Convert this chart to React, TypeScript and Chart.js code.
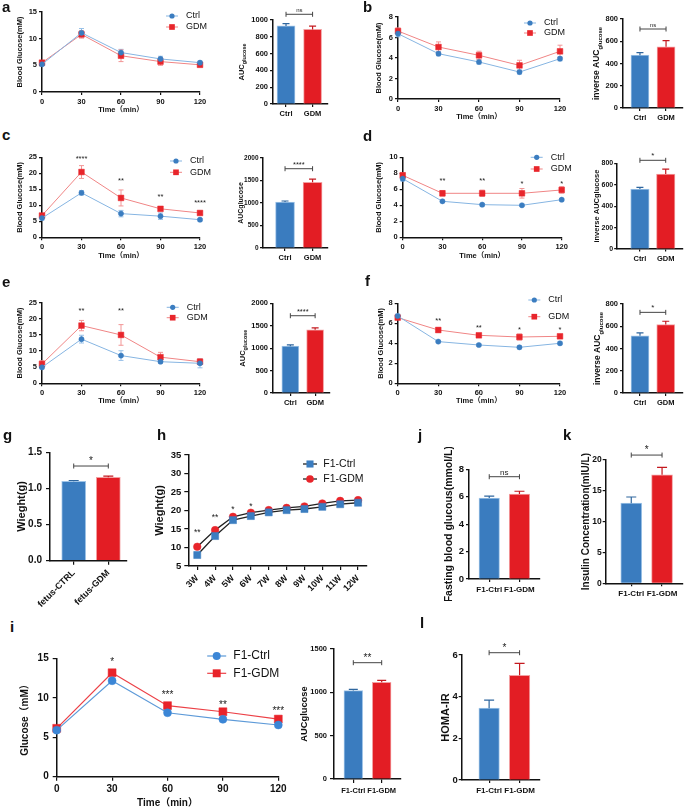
import React, { useEffect, useRef } from 'react';
import { Chart, registerables } from 'chart.js';

Chart.register(...registerables);

const FONT = "'Liberation Sans', Arial, 'Noto Sans CJK SC', sans-serif";
Chart.defaults.font.family = FONT;
Chart.defaults.color = '#111';

// ---------------- data ----------------
const TIMES = [0, 30, 60, 90, 120];
const GROUPS = ['Ctrl', 'GDM'];
const F1_GROUPS = ['F1-Ctrl', 'F1-GDM'];
const FETUS_GROUPS = ['fetus-CTRL', 'fetus-GDM'];
const WEEKS = ['3W', '4W', '5W', '6W', '7W', '8W', '9W', '10W', '11W', '12W'];

const A_CTRL = [5.2, 11.1, 7.4, 6.2, 5.5];
const A_CTRL_SD = [0.3, 0.8, 0.6, 0.5, 0.3];
const A_GDM = [5.5, 10.8, 6.8, 5.7, 5.1];
const A_GDM_SD = [0.4, 0.7, 1.1, 0.7, 0.4];
const A_AUC = [930, 888];
const A_AUC_SD = [28, 40];

const B_CTRL = [6.37, 4.42, 3.61, 2.63, 3.93];
const B_CTRL_SD = [0.3, 0.2, 0.2, 0.2, 0.2];
const B_GDM = [6.63, 5.07, 4.26, 3.28, 4.65];
const B_GDM_SD = [0.3, 0.5, 0.4, 0.5, 0.6];
const B_AUC = [475, 550];
const B_AUC_SD = [22, 55];

const C_CTRL = [6.0, 13.9, 7.4, 6.6, 5.5];
const C_CTRL_SD = [0.6, 0.7, 1.0, 1.0, 0.4];
const C_GDM = [6.8, 20.4, 12.3, 8.9, 7.6];
const C_GDM_SD = [0.6, 2.0, 2.5, 0.5, 0.5];
const C_AUC = [1020, 1460];
const C_AUC_SD = [25, 70];
const C_STARS = ['****', '**', '**', '****'];

const D_CTRL = [7.33, 4.5, 4.08, 4.0, 4.7];
const D_CTRL_SD = [0.3, 0.15, 0.15, 0.15, 0.15];
const D_GDM = [7.75, 5.5, 5.5, 5.5, 5.92];
const D_GDM_SD = [0.3, 0.35, 0.4, 0.6, 0.4];
const D_AUC = [560, 700];
const D_AUC_SD = [15, 45];
const D_STARS = ['**', '**', '*', '*'];

const E_CTRL = [4.96, 13.7, 8.6, 6.7, 6.2];
const E_CTRL_SD = [0.5, 1.2, 1.5, 0.4, 1.4];
const E_GDM = [6.0, 17.9, 15.0, 8.1, 6.7];
const E_GDM_SD = [1.0, 1.6, 3.2, 1.5, 0.9];
const E_AUC = [1045, 1410];
const E_AUC_SD = [30, 40];
const E_STARS = ['**', '**'];

const F_CTRL = [6.73, 4.17, 3.83, 3.6, 4.0];
const F_CTRL_SD = [0.2, 0.1, 0.1, 0.15, 0.15];
const F_GDM = [6.57, 5.33, 4.8, 4.63, 4.7];
const F_GDM_SD = [0.2, 0.25, 0.15, 0.3, 0.15];
const F_AUC = [515, 615];
const F_AUC_SD = [25, 30];
const F_STARS = ['**', '**', '*', '*'];

const G_WEIGHT = [1.1, 1.155];
const G_WEIGHT_SD = [0.01, 0.015];

const H_CTRL = [7.97, 13.1, 17.4, 18.5, 19.5, 20.1, 20.4, 21.0, 21.7, 22.1];
const H_GDM = [10.2, 14.7, 18.3, 19.4, 20.1, 20.7, 21.1, 21.9, 22.6, 22.8];
const H_STARS = ['**', '**', '*', '*'];

const I_CTRL = [5.9, 12.15, 8.1, 7.27, 6.55];
const I_GDM = [6.13, 13.17, 9.0, 8.23, 7.3];
const I_STARS = ['*', '***', '**', '***'];
const I_AUC = [1020, 1116];
const I_AUC_SD = [15, 23];

const J_FBG = [5.9, 6.2];
const J_FBG_SD = [0.15, 0.2];
const K_INS = [13.0, 17.6];
const K_INS_SD = [1.0, 1.2];
const L_HOMA = [3.45, 5.03];
const L_HOMA_SD = [0.38, 0.57];

// ---------------- styles ----------------
const BAR_BLUE = '#3a7cbf';
const BAR_RED = '#e31d24';
const BAR_BORDERS = ['#9fc4e7', '#f3a0a2'];
const BAR_ERR = ['#2f669e', '#c4191f'];

type Part = { t: string; s: number; sub?: boolean };
type Series = {
  label: string; values: number[]; errors?: number[];
  color: string; line: string; err: string; shape: string; r: number; lw: number;
};
type Bars = { values: number[]; errors: number[]; w: number; cap: number };
type Cfg = {
  id: string;
  kind: 'line' | 'bar' | 'cat';
  plot: number[]; m: number[];
  yMin: number; yMax: number; yStep: number; yDec?: number;
  tf: number; xf?: number; tl: number; yPad: number; xPad: number;
  xs?: number[]; cats?: string[]; xr?: number[]; rot?: number;
  series?: Series[]; bars?: Bars; cap?: number;
  yTitle: Part[]; yOff: number;
  xTitle?: { t: string; s: number; dy: number };
  legend?: { x: number; y: number; dy: number; len: number; off: number; s: number };
  stars?: { x: number; y: number; t: string }[]; starS?: number;
  bracket?: { y: number; t: string; s: number };
};

const topCtrl = (label: string, values: number[], errors: number[]): Series => ({
  label, values, errors, color: '#3b7dc0', line: '#86b5e2', err: '#97c0e8', shape: 'circle', r: 2.6, lw: 1,
});
const topGdm = (label: string, values: number[], errors: number[]): Series => ({
  label, values, errors, color: '#e8252b', line: '#f08585', err: '#f29696', shape: 'rect', r: 4, lw: 1,
});
const bars = (values: number[], errors: number[], w: number, cap: number): Bars => ({ values, errors, w, cap });

const starList = (xs: number[], ys: number[], texts: string[]) => texts.map((t, i) => ({ x: xs[i], y: ys[i], t }));

const TOP = { tf: 7.5, tl: 3, yPad: 2, xPad: 2 };
const TIME_T = 'Time（min）';

const PANELS: Cfg[] = [
  {
    id: 'a1', kind: 'line', plot: [42, 12, 200, 92], m: [42, 12, 16, 30], yMin: 0, yMax: 15, yStep: 5, ...TOP,
    xs: TIMES, series: [topCtrl('Ctrl', A_CTRL, A_CTRL_SD), topGdm('GDM', A_GDM, A_GDM_SD)], cap: 5,
    yTitle: [{ t: 'Blood Glucose(mM)', s: 7.5 }], yOff: 22, xTitle: { t: TIME_T, s: 7.5, dy: 18 },
    legend: { x: 130, y: 4, dy: 11, len: 12, off: 14, s: 9 },
  },
  {
    id: 'a2', kind: 'bar', plot: [273, 20, 328, 104], m: [45, 17, 4, 20], yMin: 0, yMax: 1000, yStep: 200, ...TOP,
    cats: GROUPS, xr: [-0.49, 1.58], bars: bars(A_AUC, A_AUC_SD, 18, 7),
    yTitle: [{ t: 'AUC', s: 7.5 }, { t: 'glucose', s: 5.5, sub: true }], yOff: 31,
    bracket: { y: 1068, t: 'ns', s: 6 },
  },
  {
    id: 'b1', kind: 'line', plot: [398, 17, 560, 99], m: [48, 12, 20, 30], yMin: 0, yMax: 8, yStep: 2, ...TOP,
    xs: TIMES, series: [topCtrl('Ctrl', B_CTRL, B_CTRL_SD), topGdm('GDM', B_GDM, B_GDM_SD)], cap: 5,
    yTitle: [{ t: 'Blood Glucose(mM)', s: 7.5 }], yOff: 19, xTitle: { t: TIME_T, s: 7.5, dy: 18 },
    legend: { x: 132, y: 6, dy: 10, len: 12, off: 14, s: 9 },
  },
  {
    id: 'b2', kind: 'bar', plot: [623, 19, 683, 108], m: [43, 15, 2, 20], yMin: 0, yMax: 800, yStep: 200, ...TOP,
    cats: GROUPS, xr: [-0.65, 1.65], bars: bars(B_AUC, B_AUC_SD, 18, 7),
    yTitle: [{ t: 'inverse AUC', s: 8.5 }, { t: 'glucose', s: 6, sub: true }], yOff: 26,
    bracket: { y: 710, t: 'ns', s: 6 },
  },
  {
    id: 'c1', kind: 'line', plot: [42, 157.3, 200, 237.3], m: [42, 14, 16, 28], yMin: 0, yMax: 25, yStep: 5, ...TOP,
    xs: TIMES, series: [topCtrl('Ctrl', C_CTRL, C_CTRL_SD), topGdm('GDM', C_GDM, C_GDM_SD)], cap: 5,
    yTitle: [{ t: 'Blood Glucose(mM)', s: 7.5 }], yOff: 22, xTitle: { t: TIME_T, s: 7.5, dy: 18.7 },
    legend: { x: 134, y: 3.7, dy: 11.3, len: 12, off: 14, s: 9 },
    stars: starList([30, 60, 90, 120], [25.0, 18.3, 13.0, 11.4], C_STARS), starS: 7.5,
  },
  {
    id: 'c2', kind: 'bar', plot: [263, 158, 328, 248], m: [33, 10, 3, 20], yMin: 0, yMax: 2000, yStep: 500,
    tf: 6.5, xf: 7.5, tl: 3, yPad: 1.5, xPad: 2,
    cats: GROUPS, xr: [-0.8, 1.56], bars: bars(C_AUC, C_AUC_SD, 19, 7),
    yTitle: [{ t: 'AUCglucose', s: 7 }], yOff: 21.5,
    bracket: { y: 1762, t: '****', s: 7.5 },
  },
  {
    id: 'd1', kind: 'line', plot: [402.7, 157.3, 561.7, 237.3], m: [52.7, 14, 18, 28], yMin: 0, yMax: 10, yStep: 2, ...TOP,
    xs: TIMES, series: [topCtrl('Ctrl', D_CTRL, D_CTRL_SD), topGdm('GDM', D_GDM, D_GDM_SD)], cap: 5,
    yTitle: [{ t: 'Blood Glucose(mM)', s: 7.5 }], yOff: 23.4, xTitle: { t: TIME_T, s: 7.5, dy: 18.7 },
    legend: { x: 134, y: 0, dy: 11.7, len: 12, off: 14, s: 9 },
    stars: starList([30, 60, 90, 120], [7.2, 7.2, 6.9, 6.9], D_STARS), starS: 7.5,
  },
  {
    id: 'd2', kind: 'bar', plot: [616.7, 163.3, 683, 249], m: [33.7, 15, 2, 20], yMin: 0, yMax: 800, yStep: 200,
    tf: 7, xf: 7.5, tl: 2.5, yPad: 1, xPad: 2.5,
    cats: GROUPS, xr: [-0.9, 1.67], bars: bars(D_AUC, D_AUC_SD, 18.5, 7),
    yTitle: [{ t: 'inverse AUCglucose', s: 7.5 }], yOff: 20,
    bracket: { y: 828, t: '*', s: 8 },
  },
  {
    id: 'e1', kind: 'line', plot: [42, 302.7, 200, 383.3], m: [42, 14, 16, 28], yMin: 0, yMax: 25, yStep: 5, ...TOP,
    xs: TIMES, series: [topCtrl('Ctrl', E_CTRL, E_CTRL_SD), topGdm('GDM', E_GDM, E_GDM_SD)], cap: 5,
    yTitle: [{ t: 'Blood Glucose(mM)', s: 7.5 }], yOff: 22, xTitle: { t: TIME_T, s: 7.5, dy: 17.7 },
    legend: { x: 130.7, y: 4.6, dy: 10.4, len: 12, off: 14, s: 9 },
    stars: starList([30, 60], [23.1, 23.1], E_STARS), starS: 7.5,
  },
  {
    id: 'e2', kind: 'bar', plot: [273, 303.3, 330, 393], m: [45, 14, 3, 20], yMin: 0, yMax: 2000, yStep: 500, ...TOP,
    cats: GROUPS, xr: [-0.7, 1.6], bars: bars(E_AUC, E_AUC_SD, 17, 7),
    yTitle: [{ t: 'AUC', s: 7.5 }, { t: 'glucose', s: 5.5, sub: true }], yOff: 29.7,
    bracket: { y: 1723, t: '****', s: 7.5 },
  },
  {
    id: 'f1', kind: 'line', plot: [397.7, 303.3, 560, 383.3], m: [47.7, 14, 20, 28], yMin: 0, yMax: 8, yStep: 2, ...TOP,
    xs: TIMES, series: [topCtrl('Ctrl', F_CTRL, F_CTRL_SD), topGdm('GDM', F_GDM, F_GDM_SD)], cap: 5,
    yTitle: [{ t: 'Blood Glucose(mM)', s: 7.5 }], yOff: 16.7, xTitle: { t: TIME_T, s: 7.5, dy: 17.7 },
    legend: { x: 136.6, y: -3.3, dy: 16.7, len: 12, off: 14, s: 9 },
    stars: starList([30, 60, 90, 120], [6.43, 5.73, 5.53, 5.53], F_STARS), starS: 7.5,
  },
  {
    id: 'f2', kind: 'bar', plot: [623, 304, 683, 393], m: [43, 14, 2, 20], yMin: 0, yMax: 800, yStep: 200, ...TOP,
    cats: GROUPS, xr: [-0.66, 1.67], bars: bars(F_AUC, F_AUC_SD, 18, 7),
    yTitle: [{ t: 'inverse AUC', s: 8.5 }, { t: 'glucose', s: 6, sub: true }], yOff: 25,
    bracket: { y: 725, t: '*', s: 8 },
  },
  {
    id: 'g', kind: 'bar', plot: [50, 452.3, 127, 560.7], m: [50, 22, 6, 50], yMin: 0, yMax: 1.5, yStep: 0.5, yDec: 1,
    tf: 10, xf: 9, tl: 4, yPad: 4, xPad: 3, rot: 45,
    cats: FETUS_GROUPS, xr: [-0.685, 1.54], bars: bars(G_WEIGHT, G_WEIGHT_SD, 24, 10),
    yTitle: [{ t: 'Wieght(g)', s: 11 }], yOff: 28,
    bracket: { y: 1.31, t: '*', s: 10 },
  },
  {
    id: 'h', kind: 'cat', plot: [188.3, 455, 367, 566], m: [43.3, 22, 10, 42], yMin: 5, yMax: 35, yStep: 5,
    tf: 9.5, xf: 9, tl: 4, yPad: 3, xPad: 3, rot: 45, cats: WEEKS,
    series: [
      { label: 'F1-Ctrl', values: H_CTRL, color: '#3b7dc0', line: '#222', err: '#222', shape: 'rect', r: 5, lw: 1.3 },
      { label: 'F1-GDM', values: H_GDM, color: '#e8252b', line: '#222', err: '#222', shape: 'circle', r: 3.8, lw: 1.3 },
    ],
    yTitle: [{ t: 'Wieght(g)', s: 11 }], yOff: 28,
    legend: { x: 121.7, y: 9, dy: 15, len: 14, off: 13.3, s: 10.5 },
    stars: starList([0, 1, 2, 3], [14.5, 18.5, 20.8, 21.5], H_STARS), starS: 8.5,
  },
  {
    id: 'j', kind: 'bar', plot: [469, 469.3, 540, 579], m: [31, 22, 3, 22], yMin: 0, yMax: 8, yStep: 2,
    tf: 9.5, xf: 8, tl: 3, yPad: 2, xPad: 3,
    cats: F1_GROUPS, xr: [-0.67, 1.68], bars: bars(J_FBG, J_FBG_SD, 20.5, 10),
    yTitle: [{ t: 'Fasting blood glucous(mmol/L)', s: 10.5 }], yOff: 20,
    bracket: { y: 7.46, t: 'ns', s: 8 },
  },
  {
    id: 'k', kind: 'bar', plot: [605.7, 460, 683, 583.3], m: [27.7, 22, 2, 22], yMin: 0, yMax: 20, yStep: 5,
    tf: 8.5, xf: 8, tl: 3, yPad: 1, xPad: 3,
    cats: F1_GROUPS, xr: [-0.83, 1.68], bars: bars(K_INS, K_INS_SD, 21, 10),
    yTitle: [{ t: 'Insulin Concentration(mIU/L)', s: 10 }], yOff: 19,
    bracket: { y: 20.8, t: '*', s: 10 },
  },
  {
    id: 'i1', kind: 'line', plot: [56.7, 658.3, 278.3, 776.7], m: [56.7, 22, 22, 31], yMin: 0, yMax: 15, yStep: 5,
    tf: 10, tl: 4, yPad: 4, xPad: 3, xs: TIMES,
    series: [
      { label: 'F1-Ctrl', values: I_CTRL, color: '#3b86d6', line: '#5d9ad8', err: '#5d9ad8', shape: 'circle', r: 4, lw: 1.2 },
      { label: 'F1-GDM', values: I_GDM, color: '#e8232a', line: '#ec4046', err: '#ec4046', shape: 'rect', r: 5.6, lw: 1.2 },
    ],
    yTitle: [{ t: 'Glucose（mM）', s: 10 }], yOff: 31.7, xTitle: { t: TIME_T, s: 10, dy: 26.6 },
    legend: { x: 160, y: -2.3, dy: 17.3, len: 19, off: 16.6, s: 12 },
    stars: starList([30, 60, 90, 120], [14.8, 10.6, 9.3, 8.6], I_STARS), starS: 10,
  },
  {
    id: 'i2', kind: 'bar', plot: [334, 649, 401, 779], m: [39, 18, 3, 22], yMin: 0, yMax: 1500, yStep: 500,
    tf: 7.5, xf: 7.5, tl: 4, yPad: 3, xPad: 3,
    cats: F1_GROUPS, xr: [-0.68, 1.68], bars: bars(I_AUC, I_AUC_SD, 18.7, 9),
    yTitle: [{ t: 'AUCglucose', s: 9.3 }], yOff: 29.5,
    bracket: { y: 1342, t: '**', s: 10 },
  },
  {
    id: 'l', kind: 'bar', plot: [461.7, 655, 540, 780], m: [25.7, 18, 3, 22], yMin: 0, yMax: 6, yStep: 2,
    tf: 9.5, xf: 8, tl: 3, yPad: 1, xPad: 3,
    cats: F1_GROUPS, xr: [-0.9, 1.67], bars: bars(L_HOMA, L_HOMA_SD, 20.5, 10),
    yTitle: [{ t: 'HOMA-IR', s: 11 }], yOff: 16,
    bracket: { y: 6.11, t: '*', s: 10 },
  },
];

const LETTERS = [
  { t: 'a', x: 2, y: 12 }, { t: 'b', x: 363, y: 12 },
  { t: 'c', x: 2, y: 140 }, { t: 'd', x: 363, y: 141 },
  { t: 'e', x: 2, y: 287 }, { t: 'f', x: 365, y: 286 },
  { t: 'g', x: 3, y: 440 }, { t: 'h', x: 157, y: 440 },
  { t: 'j', x: 418, y: 440 }, { t: 'k', x: 563, y: 440 },
  { t: 'i', x: 10, y: 632 }, { t: 'l', x: 420, y: 628 },
];

// ---------------- drawing helpers ----------------
function drawMarker(ctx: CanvasRenderingContext2D, s: Series, x: number, y: number) {
  ctx.fillStyle = s.color;
  if (s.shape === 'rect') {
    const side = s.r * Math.SQRT2;
    ctx.fillRect(x - side / 2, y - side / 2, side, side);
  } else {
    ctx.beginPath();
    ctx.arc(x, y, s.r, 0, Math.PI * 2);
    ctx.fill();
  }
}

function drawLineErrors(chart: any, c: Cfg) {
  const ctx: CanvasRenderingContext2D = chart.ctx;
  const ys = chart.scales.y;
  const cap = c.cap ?? 5;
  (c.series || []).forEach((s, di) => {
    if (!s.errors) return;
    const meta = chart.getDatasetMeta(di);
    ctx.save();
    ctx.strokeStyle = s.err;
    ctx.lineWidth = 1;
    s.values.forEach((v, i) => {
      const el = meta.data[i];
      if (!el) return;
      const x = el.x;
      const yT = ys.getPixelForValue(v + s.errors![i]);
      const yB = ys.getPixelForValue(v - s.errors![i]);
      ctx.beginPath();
      ctx.moveTo(x, yT); ctx.lineTo(x, yB);
      ctx.moveTo(x - cap / 2, yT); ctx.lineTo(x + cap / 2, yT);
      ctx.moveTo(x - cap / 2, yB); ctx.lineTo(x + cap / 2, yB);
      ctx.stroke();
    });
    ctx.restore();
  });
}

function drawBarErrors(chart: any, c: Cfg) {
  const b = c.bars!;
  const ctx: CanvasRenderingContext2D = chart.ctx;
  const ys = chart.scales.y;
  const meta = chart.getDatasetMeta(0);
  ctx.save();
  ctx.lineWidth = 1.2;
  b.values.forEach((v, i) => {
    const el = meta.data[i];
    if (!el) return;
    const x = el.x;
    const yT = ys.getPixelForValue(v + b.errors[i]);
    const y0 = ys.getPixelForValue(v);
    ctx.strokeStyle = BAR_ERR[i];
    ctx.beginPath();
    ctx.moveTo(x, y0); ctx.lineTo(x, yT);
    ctx.moveTo(x - b.cap / 2, yT); ctx.lineTo(x + b.cap / 2, yT);
    ctx.stroke();
  });
  ctx.restore();
}

function drawDecor(chart: any, c: Cfg) {
  const ctx: CanvasRenderingContext2D = chart.ctx;
  const ca = chart.chartArea;
  const xs = chart.scales.x;
  const ys = chart.scales.y;
  ctx.save();
  ctx.fillStyle = '#111';

  // y title
  ctx.save();
  ctx.translate(ca.left - c.yOff, (ca.top + ca.bottom) / 2);
  ctx.rotate(-Math.PI / 2);
  ctx.textBaseline = 'middle';
  ctx.textAlign = 'left';
  let total = 0;
  const widths = c.yTitle.map((p) => {
    ctx.font = `bold ${p.s}px ${FONT}`;
    const w = ctx.measureText(p.t).width;
    total += w;
    return w;
  });
  let tx = -total / 2;
  c.yTitle.forEach((p, i) => {
    ctx.font = `bold ${p.s}px ${FONT}`;
    ctx.fillText(p.t, tx, p.sub ? c.yTitle[0].s * 0.35 : 0);
    tx += widths[i];
  });
  ctx.restore();

  // x title
  if (c.xTitle) {
    ctx.font = `bold ${c.xTitle.s}px ${FONT}`;
    ctx.textAlign = 'center';
    ctx.textBaseline = 'middle';
    ctx.fillText(c.xTitle.t, (ca.left + ca.right) / 2, ca.bottom + c.xTitle.dy);
  }

  // legend
  if (c.legend && c.series) {
    const lg = c.legend;
    c.series.forEach((s, k) => {
      const y = ca.top + lg.y + k * lg.dy;
      const mx = ca.left + lg.x;
      ctx.strokeStyle = s.line;
      ctx.lineWidth = s.lw;
      ctx.beginPath();
      ctx.moveTo(mx - lg.len / 2, y);
      ctx.lineTo(mx + lg.len / 2, y);
      ctx.stroke();
      drawMarker(ctx, s, mx, y);
      ctx.fillStyle = '#111';
      ctx.font = `${lg.s}px ${FONT}`;
      ctx.textAlign = 'left';
      ctx.textBaseline = 'middle';
      ctx.fillText(s.label, mx + lg.off, y);
    });
  }

  // stars
  if (c.stars) {
    const sz = c.starS ?? 8;
    ctx.fillStyle = '#222';
    ctx.font = `${sz}px ${FONT}`;
    ctx.textAlign = 'center';
    ctx.textBaseline = 'middle';
    c.stars.forEach((s) => {
      ctx.fillText(s.t, xs.getPixelForValue(s.x), ys.getPixelForValue(s.y) + sz * 0.23);
    });
  }

  // bracket
  if (c.bracket) {
    const br = c.bracket;
    const x1 = xs.getPixelForValue(0);
    const x2 = xs.getPixelForValue(1);
    const y = ys.getPixelForValue(br.y);
    ctx.strokeStyle = '#444';
    ctx.lineWidth = 1;
    ctx.beginPath();
    ctx.moveTo(x1, y); ctx.lineTo(x2, y);
    ctx.moveTo(x1, y - 2.5); ctx.lineTo(x1, y + 2.5);
    ctx.moveTo(x2, y - 2.5); ctx.lineTo(x2, y + 2.5);
    ctx.stroke();
    ctx.fillStyle = '#222';
    ctx.font = `${br.s}px ${FONT}`;
    ctx.textAlign = 'center';
    ctx.textBaseline = 'alphabetic';
    ctx.fillText(br.t, (x1 + x2) / 2, y - 2);
  }
  ctx.restore();
}

function build(c: Cfg, ml: number, mt: number, mr: number, mb: number) {
  const tickFont = { family: FONT, size: c.tf, weight: 'bold' as const };
  const xFont = { family: FONT, size: c.xf ?? c.tf, weight: 'bold' as const };
  const grid = { display: true, drawOnChartArea: false, drawTicks: true, tickLength: c.tl, color: '#111', lineWidth: 1.2, offset: false };
  const border = { display: true, color: '#111', width: 1.5 };
  const rot = c.rot ?? 0;
  let x: any;
  if (c.kind === 'line') {
    x = { type: 'linear', min: 0, max: 120, offset: false, ticks: { stepSize: 30, font: tickFont, padding: c.xPad, maxRotation: 0, color: '#111' } };
  } else if (c.kind === 'bar') {
    const cats = c.cats!;
    x = {
      type: 'linear', min: c.xr![0], max: c.xr![1], offset: false,
      afterBuildTicks: (s: any) => { s.ticks = cats.map((_, i) => ({ value: i })); },
      ticks: { font: xFont, padding: c.xPad, autoSkip: false, maxRotation: rot, minRotation: rot, color: '#111', callback: (v: any) => cats[v] ?? '' },
    };
  } else {
    x = { type: 'category', offset: true, ticks: { font: xFont, padding: c.xPad, autoSkip: false, maxRotation: rot, minRotation: rot, color: '#111' } };
  }
  x.grid = grid;
  x.border = border;
  x.afterFit = (s: any) => { s.height = mb; s.paddingLeft = 0; s.paddingRight = 0; };

  const y: any = {
    type: 'linear', min: c.yMin, max: c.yMax,
    ticks: {
      stepSize: c.yStep, font: tickFont, padding: c.yPad, color: '#111',
      callback: (v: any) => (c.yDec !== undefined ? Number(v).toFixed(c.yDec) : String(v)),
    },
    grid, border,
    afterFit: (s: any) => { s.width = ml; s.paddingTop = 0; s.paddingBottom = 0; },
  };

  let datasets: any[] = [];
  let labels: any = undefined;
  if (c.bars) {
    datasets = [{
      type: 'bar',
      data: c.bars.values.map((v, i) => ({ x: i, y: v })),
      backgroundColor: [BAR_BLUE, BAR_RED],
      borderColor: BAR_BORDERS,
      borderWidth: 1,
      barThickness: c.bars.w,
    }];
  } else if (c.series) {
    if (c.kind === 'cat') labels = c.cats;
    datasets = c.series.map((s) => ({
      type: 'line',
      data: c.kind === 'cat' ? s.values : c.xs!.map((xv, i) => ({ x: xv, y: s.values[i] })),
      borderColor: s.line,
      borderWidth: s.lw,
      pointStyle: s.shape,
      pointRadius: s.r,
      pointBackgroundColor: s.color,
      pointBorderColor: s.color,
      pointBorderWidth: 0.5,
      tension: 0,
      clip: false,
    }));
  }

  return {
    type: c.bars ? 'bar' : 'line',
    data: labels ? { labels, datasets } : { datasets },
    options: {
      responsive: false,
      animation: false,
      events: [],
      devicePixelRatio: 1,
      layout: { padding: { left: 0, top: mt, right: mr, bottom: 0 } },
      plugins: { legend: { display: false }, tooltip: { enabled: false }, title: { display: false } },
      scales: { x, y },
    },
    plugins: [{
      id: 'extras_' + c.id,
      beforeDatasetsDraw(chart: any) { if (c.series) drawLineErrors(chart, c); },
      afterDatasetsDraw(chart: any) { if (c.bars) drawBarErrors(chart, c); },
      afterDraw(chart: any) { drawDecor(chart, c); },
    }],
  };
}

function ChartPanel({ c }: { c: Cfg }) {
  const ref = useRef<HTMLCanvasElement>(null);
  const [l, t, r, b] = c.plot;
  const [ml0, mt0, mr0, mb0] = c.m;
  const cl = Math.round(l - ml0);
  const ct = Math.round(t - mt0);
  const W = Math.round(r - cl + mr0);
  const H = Math.round(b - ct + mb0);
  const ml = l - cl;
  const mt = t - ct;
  const mr = W - (r - cl);
  const mb = H - (b - ct);
  useEffect(() => {
    const chart = new Chart(ref.current as HTMLCanvasElement, build(c, ml, mt, mr, mb) as any);
    return () => chart.destroy();
  }, []);
  return (
    <canvas
      ref={ref}
      width={W}
      height={H}
      style={{ position: 'absolute', left: cl, top: ct, width: W, height: H }}
    />
  );
}

export default function App() {
  return (
    <div style={{ position: 'absolute', left: 0, top: 0, width: 685, height: 808, background: '#fff', overflow: 'hidden' }}>
      {PANELS.map((p) => <ChartPanel key={p.id} c={p} />)}
      {LETTERS.map((L) => (
        <div
          key={L.t}
          style={{
            position: 'absolute', left: L.x, top: L.y - 13.5, font: `bold 15px ${FONT}`,
            lineHeight: '15px', color: '#111', margin: 0,
          }}
        >
          {L.t}
        </div>
      ))}
    </div>
  );
}
